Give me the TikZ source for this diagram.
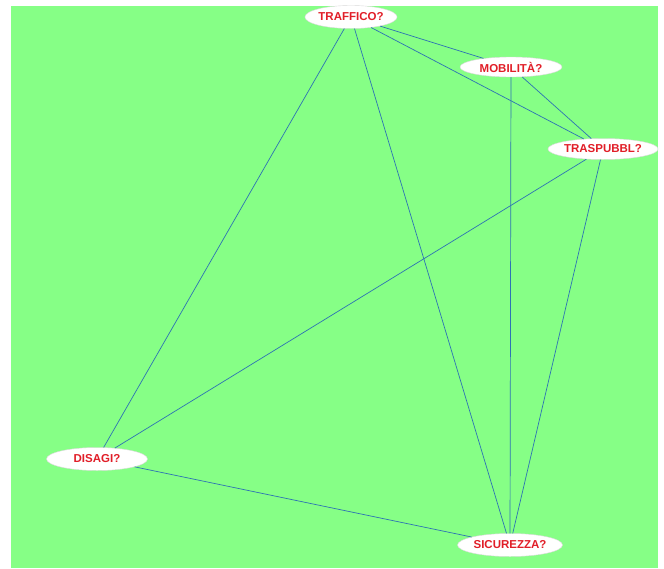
\documentclass[tikz,border=0pt]{standalone}
\usepackage{fontspec}
\setmainfont{Liberation Sans}
\usetikzlibrary{shapes.geometric}
\definecolor{bggreen}{RGB}{134,255,134}
\definecolor{lblred}{RGB}{225,30,40}
\definecolor{edgeblue}{RGB}{45,115,180}
\tikzset{
  topic/.style={ellipse, fill=white, draw=white!85!black, line width=0.4pt, inner sep=0pt,
    font=\fontsize{11.5}{12}\selectfont\bfseries, text=lblred},
  link/.style={draw=edgeblue, line width=0.7pt}
}
\begin{document}
\begin{tikzpicture}[x=1pt,y=-1pt]
\useasboundingbox (0,0) rectangle (664,568);
\fill[white] (0,0) rectangle (664,568);
\fill[bggreen] (11,6) rectangle (658,568);
\node[topic, minimum width=91pt, minimum height=23pt] (traf) at (351,17) {TRAFFICO?};
\node[topic, minimum width=102pt, minimum height=20pt] (mob) at (511,67) {MOBILITÀ?};
\node[topic, minimum width=106pt, minimum height=21pt] (tras) at (603,149) {TRASPUBBL?};
\node[topic, minimum width=101pt, minimum height=23pt] (dis) at (97,459) {DISAGI?};
\node[topic, minimum width=105pt, minimum height=23pt] (sic) at (510,545) {SICUREZZA?};
\path[link] (traf) -- (mob);
\path[link] (traf) -- (tras);
\path[link] (traf) -- (dis);
\path[link] (traf) -- (sic);
\path[link] (mob) -- (tras);
\path[link] (mob) -- (sic);
\path[link] (tras) -- (dis);
\path[link] (tras) -- (sic);
\path[link] (dis) -- (sic);
\end{tikzpicture}
\end{document}
